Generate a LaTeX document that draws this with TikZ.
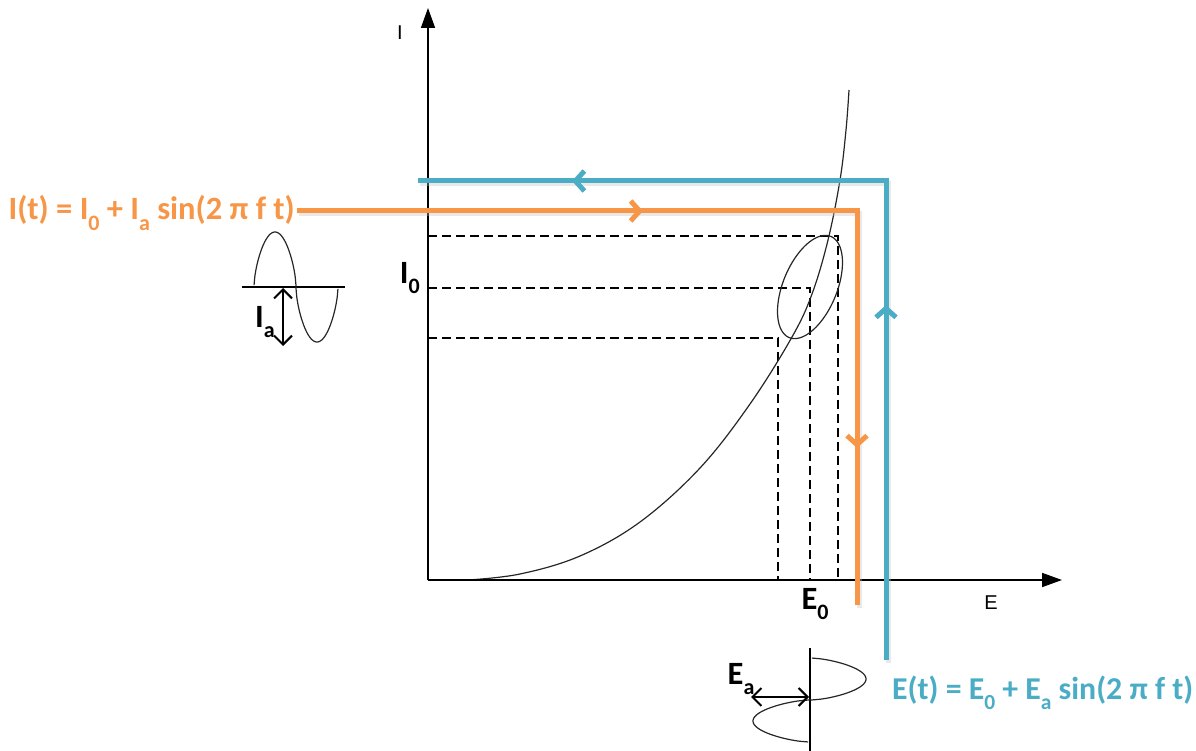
\documentclass[tikz,border=0pt]{standalone}
\usepackage{fontspec}
\setmainfont{Carlito}
\newfontfamily\arialf{Liberation Sans}
\usetikzlibrary{arrows.meta}
\definecolor{myorange}{HTML}{F79646}
\definecolor{myblue}{HTML}{4BACC6}
\newcommand{\lowsub}[1]{\raisebox{-0.32em}{\fontsize{22}{22}\selectfont #1}}
\newcommand{\lowsubb}[1]{\raisebox{-0.32em}{\fontsize{21.5}{22}\selectfont #1}}
\tikzset{
  axis/.style={line width=1.6pt,-{Triangle[length=20pt,width=14pt]}},
  guide/.style={line width=1.1pt,dash pattern=on 9pt off 5pt},
  thin/.style={line width=1.2pt,draw=black!85},
  orangeline/.style={draw=myorange,line width=5pt},
  blueline/.style={draw=myblue,line width=5pt},
  shadowline/.style={draw=black!25,line width=5pt,opacity=0.35},
  barb/.style={-{Straight Barb[length=9pt,width=20pt]}},
  biglabel/.style={font=\fontsize{32.5}{33}\selectfont\bfseries,inner sep=0pt},
  bluelabel/.style={font=\fontsize{31.8}{33}\selectfont\bfseries,inner sep=0pt,text=myblue},
  axlabel/.style={font=\arialf\fontsize{20}{20}\selectfont,inner sep=0pt},
  dblarrow/.style={line width=2pt,{Straight Barb[length=9pt,width=18pt]}-{Straight Barb[length=9pt,width=18pt]}}
}
\begin{document}
\begin{tikzpicture}[x=1pt,y=-1pt]
\useasboundingbox (0,0) rectangle (1196,751);
% coordinates
\coordinate (O) at (428,580);
\coordinate (Ytop) at (428,8);
\coordinate (Xend) at (1062,580);
% dashed guides
\coordinate (h1a) at (428,236); \coordinate (h1b) at (838,236);
\coordinate (h2a) at (428,288); \coordinate (h2b) at (810,288);
\coordinate (h3a) at (428,338); \coordinate (h3b) at (778,338);
\coordinate (v1) at (838,580); \coordinate (v2) at (810,580); \coordinate (v3) at (778,580);
\draw[guide] (h1a) -- (h1b) -- (v1);
\draw[guide] (h2a) -- (h2b) -- (v2);
\draw[guide] (h3a) -- (h3b) -- (v3);
% curve
\draw[thin] plot[smooth,tension=0.6] coordinates {(468,580) (520,574) (580,556) (640,522) (700,468) (750,404) (792,337) (812,294) (828,240) (840,180) (846,130) (849,90)};
% ellipse
\draw[thin] plot[domain=0:360,samples=90,smooth] ({810 + 54.7*cos(\x)*0.38 + 27*sin(\x)*0.925}, {287 - 54.7*cos(\x)*0.925 + 27*sin(\x)*0.38});
% axes
\draw[axis] (O) -- (Ytop);
\draw[axis] (O) -- (Xend);
\node[axlabel] (Ilab) at (400,33) {I};
\node[axlabel] (Elab) at (991,603) {E};
\node[biglabel,anchor=east] (I0) at (420,278) {I\lowsub{0}};
\node[biglabel] (E0) at (815,604) {E\lowsub{0}};
% shadows
\coordinate (oS) at (297,211); \coordinate (oC) at (857,211); \coordinate (oE) at (857,605);
\coordinate (bS) at (418,181); \coordinate (bC) at (886,181); \coordinate (bE) at (886,660);
\draw[shadowline] ([shift={(2,3)}]oS) -- ([shift={(2,3)}]oC) -- ([shift={(2,3)}]oE);
\draw[shadowline] ([shift={(2,3)}]bS) -- ([shift={(2,3)}]bC) -- ([shift={(2,3)}]bE);
% orange path
\draw[orangeline] (oS) -- (oC) -- (oE);
\coordinate (oa1) at (628,211); \coordinate (oa2) at (643,211);
\draw[orangeline,barb] (oa1) -- (oa2);
\coordinate (oa3) at (857,432); \coordinate (oa4) at (857,448);
\draw[orangeline,barb] (oa3) -- (oa4);
% blue path
\draw[blueline] (bS) -- (bC) -- (bE);
\coordinate (ba1) at (588,181); \coordinate (ba2) at (572,181);
\draw[blueline,barb] (ba1) -- (ba2);
\coordinate (ba3) at (886,320); \coordinate (ba4) at (886,305);
\draw[blueline,barb] (ba3) -- (ba4);
% formulas
\node[biglabel,text=myorange,anchor=east] (It) at (295,213) {I(t) = I\lowsub{0} + I\lowsub{a} sin(2 π f t)};
\node[bluelabel,anchor=west] (Et) at (892,693) {E(t) = E\lowsubb{0} + E\lowsubb{a} sin(2 π f t)};
% left sine
\coordinate (ls1) at (242,287); \coordinate (ls2) at (345,287);
\draw[line width=1.6pt] (ls1) -- (ls2);
\draw[thin] plot[domain=0.2:179.8,samples=60,smooth] ({254 + \x/360*84}, {287 - 55*pow(sin(\x),0.6)})
  -- plot[domain=180.2:359.8,samples=60,smooth] ({254 + \x/360*84}, {287 + 55*pow(-sin(\x),0.6)});
\coordinate (la1) at (283,288); \coordinate (la2) at (283,346);
\draw[dblarrow] (la1) -- (la2);
\node[biglabel] (Ia) at (265,322) {I\lowsub{a}};
% bottom sine
\coordinate (bs1) at (810,648); \coordinate (bs2) at (810,751);
\draw[line width=1.6pt] (bs1) -- (bs2);
\draw[thin] plot[domain=0.2:179.8,samples=60,smooth] ({810 + 56*pow(sin(\x),0.6)}, {658 + \x/360*84})
  -- plot[domain=180.2:359.8,samples=60,smooth] ({810 - 57*pow(-sin(\x),0.6)}, {658 + \x/360*84});
\coordinate (ea1) at (751,697); \coordinate (ea2) at (809,697);
\draw[dblarrow] (ea1) -- (ea2);
\node[biglabel] (Ea) at (741,679) {E\lowsub{a}};
\end{tikzpicture}
\end{document}
